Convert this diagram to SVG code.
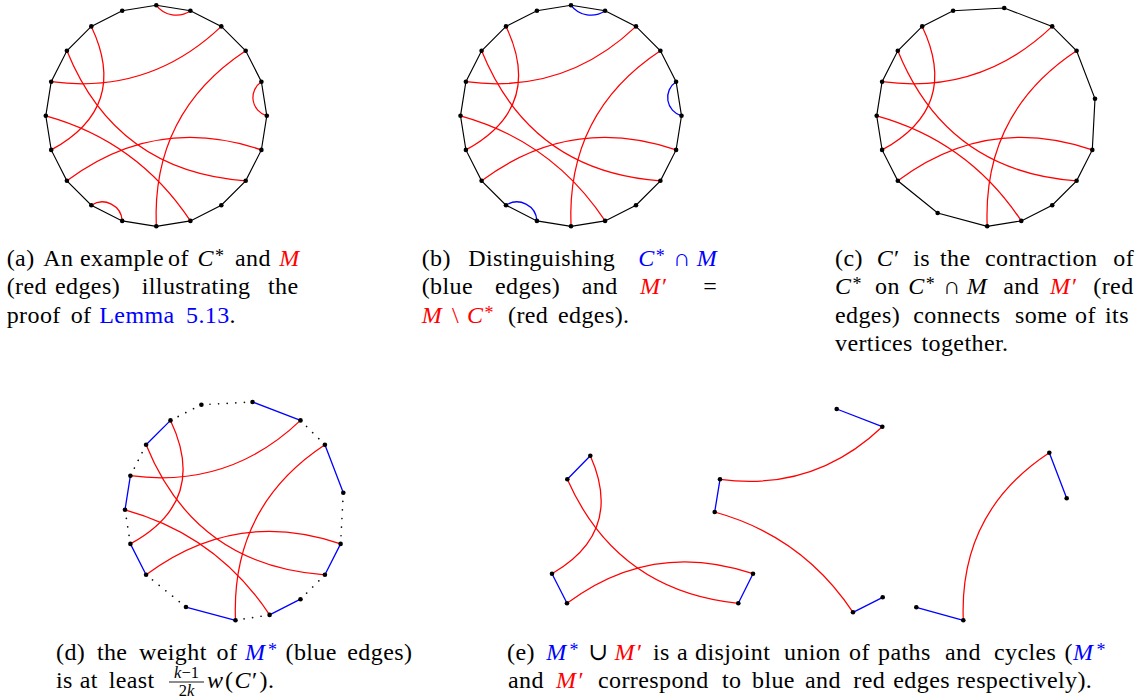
<svg xmlns="http://www.w3.org/2000/svg" xmlns:xlink="http://www.w3.org/1999/xlink" width="1147" height="698" viewBox="0 0 1147 698">
<style>
.e{fill:none;stroke:#000;stroke-width:1.15}
.r{fill:none;stroke:#f00;stroke-width:1.25}
.b{fill:none;stroke:#00f;stroke-width:1.3}
.dt{fill:none;stroke:#111;stroke-width:1.7;stroke-linecap:round;stroke-dasharray:0.01 8.6}
.v{fill:#000}
.t{font-family:"Liberation Serif","DejaVu Serif",serif;font-size:24px;letter-spacing:0.4px;fill:#000}
.i{font-style:italic;letter-spacing:0}
.sp{font-size:18px;letter-spacing:0}
.fr{font-size:16.5px;letter-spacing:0}
.rd{fill:#f00}
.bl{fill:#00f}
</style>
<defs>
<g id="redM">
<path d="M91.3,26.4 Q129.7,107.1 51.2,149.9"/>
<path d="M51.2,81.7 Q149.7,94.75 221.3,26.4"/>
<path d="M66.9,50.8 Q115.9,171.6 245.7,180.8"/>
<path d="M45.8,115.8 Q137.6,141.2 190.4,220.9"/>
<path d="M66.9,180.8 Q156.3,114.1 261.4,149.9"/>
<path d="M245.7,50.8 Q151.6,112.9 156.3,226.3"/>
</g>
<g id="small">
<path d="M156.3,5.3 A25,25 0 0 0 190.4,10.7"/>
<path d="M261.4,81.7 A19,19 0 0 0 266.8,115.8"/>
<path d="M122.2,220.9 A20,20 0 0 0 91.3,205.2"/>
</g>
<polygon id="c20" points="156.3,5.3 190.4,10.7 221.3,26.4 245.7,50.8 261.4,81.7 266.8,115.8 261.4,149.9 245.7,180.8 221.3,205.2 190.4,220.9 156.3,226.3 122.2,220.9 91.3,205.2 66.9,180.8 51.2,149.9 45.8,115.8 51.2,81.7 66.9,50.8 91.3,26.4 122.2,10.7"/>
<polygon id="c17" points="122.2,10.7 173.35,8 221.3,26.4 245.7,50.8 264.1,98.75 261.4,149.9 245.7,180.8 221.3,205.2 190.4,220.9 156.3,226.3 106.75,213.05 66.9,180.8 51.2,149.9 45.8,115.8 51.2,81.7 66.9,50.8 91.3,26.4"/>
</defs>

<!-- panel a -->
<g id="panel-a">
<g id="a-connectors">
<use xlink:href="#c20" class="e"/>
<use xlink:href="#redM" class="r"/>
<use xlink:href="#small" class="r"/>
</g>
<g id="a0"><circle class="v" cx="156.3" cy="5.3" r="2.3"/></g>
<g id="a1"><circle class="v" cx="190.4" cy="10.7" r="2.3"/></g>
<g id="a2"><circle class="v" cx="221.3" cy="26.4" r="2.3"/></g>
<g id="a3"><circle class="v" cx="245.7" cy="50.8" r="2.3"/></g>
<g id="a4"><circle class="v" cx="261.4" cy="81.7" r="2.3"/></g>
<g id="a5"><circle class="v" cx="266.8" cy="115.8" r="2.3"/></g>
<g id="a6"><circle class="v" cx="261.4" cy="149.9" r="2.3"/></g>
<g id="a7"><circle class="v" cx="245.7" cy="180.8" r="2.3"/></g>
<g id="a8"><circle class="v" cx="221.3" cy="205.2" r="2.3"/></g>
<g id="a9"><circle class="v" cx="190.4" cy="220.9" r="2.3"/></g>
<g id="a10"><circle class="v" cx="156.3" cy="226.3" r="2.3"/></g>
<g id="a11"><circle class="v" cx="122.2" cy="220.9" r="2.3"/></g>
<g id="a12"><circle class="v" cx="91.3" cy="205.2" r="2.3"/></g>
<g id="a13"><circle class="v" cx="66.9" cy="180.8" r="2.3"/></g>
<g id="a14"><circle class="v" cx="51.2" cy="149.9" r="2.3"/></g>
<g id="a15"><circle class="v" cx="45.8" cy="115.8" r="2.3"/></g>
<g id="a16"><circle class="v" cx="51.2" cy="81.7" r="2.3"/></g>
<g id="a17"><circle class="v" cx="66.9" cy="50.8" r="2.3"/></g>
<g id="a18"><circle class="v" cx="91.3" cy="26.4" r="2.3"/></g>
<g id="a19"><circle class="v" cx="122.2" cy="10.7" r="2.3"/></g>
</g>

<!-- panel b -->
<g id="panel-b" transform="translate(414.7,0)">
<g id="b-connectors">
<use xlink:href="#c20" class="e"/>
<use xlink:href="#redM" class="r"/>
<use xlink:href="#small" class="b"/>
</g>
<g id="b0"><circle class="v" cx="156.3" cy="5.3" r="2.3"/></g>
<g id="b1"><circle class="v" cx="190.4" cy="10.7" r="2.3"/></g>
<g id="b2"><circle class="v" cx="221.3" cy="26.4" r="2.3"/></g>
<g id="b3"><circle class="v" cx="245.7" cy="50.8" r="2.3"/></g>
<g id="b4"><circle class="v" cx="261.4" cy="81.7" r="2.3"/></g>
<g id="b5"><circle class="v" cx="266.8" cy="115.8" r="2.3"/></g>
<g id="b6"><circle class="v" cx="261.4" cy="149.9" r="2.3"/></g>
<g id="b7"><circle class="v" cx="245.7" cy="180.8" r="2.3"/></g>
<g id="b8"><circle class="v" cx="221.3" cy="205.2" r="2.3"/></g>
<g id="b9"><circle class="v" cx="190.4" cy="220.9" r="2.3"/></g>
<g id="b10"><circle class="v" cx="156.3" cy="226.3" r="2.3"/></g>
<g id="b11"><circle class="v" cx="122.2" cy="220.9" r="2.3"/></g>
<g id="b12"><circle class="v" cx="91.3" cy="205.2" r="2.3"/></g>
<g id="b13"><circle class="v" cx="66.9" cy="180.8" r="2.3"/></g>
<g id="b14"><circle class="v" cx="51.2" cy="149.9" r="2.3"/></g>
<g id="b15"><circle class="v" cx="45.8" cy="115.8" r="2.3"/></g>
<g id="b16"><circle class="v" cx="51.2" cy="81.7" r="2.3"/></g>
<g id="b17"><circle class="v" cx="66.9" cy="50.8" r="2.3"/></g>
<g id="b18"><circle class="v" cx="91.3" cy="26.4" r="2.3"/></g>
<g id="b19"><circle class="v" cx="122.2" cy="10.7" r="2.3"/></g>
</g>

<!-- panel c -->
<g id="panel-c" transform="translate(830.9,0)">
<g id="c-connectors">
<use xlink:href="#c17" class="e"/>
<use xlink:href="#redM" class="r"/>
</g>
<g id="c01"><circle class="v" cx="173.35" cy="8" r="2.3"/></g>
<g id="c2"><circle class="v" cx="221.3" cy="26.4" r="2.3"/></g>
<g id="c3"><circle class="v" cx="245.7" cy="50.8" r="2.3"/></g>
<g id="c45"><circle class="v" cx="264.1" cy="98.75" r="2.3"/></g>
<g id="c6"><circle class="v" cx="261.4" cy="149.9" r="2.3"/></g>
<g id="c7"><circle class="v" cx="245.7" cy="180.8" r="2.3"/></g>
<g id="c8"><circle class="v" cx="221.3" cy="205.2" r="2.3"/></g>
<g id="c9"><circle class="v" cx="190.4" cy="220.9" r="2.3"/></g>
<g id="c10"><circle class="v" cx="156.3" cy="226.3" r="2.3"/></g>
<g id="c1112"><circle class="v" cx="106.75" cy="213.05" r="2.3"/></g>
<g id="c13"><circle class="v" cx="66.9" cy="180.8" r="2.3"/></g>
<g id="c14"><circle class="v" cx="51.2" cy="149.9" r="2.3"/></g>
<g id="c15"><circle class="v" cx="45.8" cy="115.8" r="2.3"/></g>
<g id="c16"><circle class="v" cx="51.2" cy="81.7" r="2.3"/></g>
<g id="c17"><circle class="v" cx="66.9" cy="50.8" r="2.3"/></g>
<g id="c18"><circle class="v" cx="91.3" cy="26.4" r="2.3"/></g>
<g id="c19"><circle class="v" cx="122.2" cy="10.7" r="2.3"/></g>
</g>

<!-- panel d -->
<g id="panel-d" transform="translate(79.2,394)">
<g id="d-connectors">
<path class="dt" d="M122.2,10.7 L173.35,8 M221.3,26.4 L245.7,50.8 M264.1,98.75 L261.4,149.9 M245.7,180.8 L221.3,205.2 M190.4,220.9 L156.3,226.3 M106.75,213.05 L66.9,180.8 M51.2,149.9 L45.8,115.8 M51.2,81.7 L66.9,50.8 M91.3,26.4 L122.2,10.7"/>
<path class="b" d="M173.35,8 L221.3,26.4 M245.7,50.8 L264.1,98.75 M261.4,149.9 L245.7,180.8 M221.3,205.2 L190.4,220.9 M156.3,226.3 L106.75,213.05 M66.9,180.8 L51.2,149.9 M45.8,115.8 L51.2,81.7 M66.9,50.8 L91.3,26.4"/>
<use xlink:href="#redM" class="r"/>
</g>
<g id="d01"><circle class="v" cx="173.35" cy="8" r="2.3"/></g>
<g id="d2"><circle class="v" cx="221.3" cy="26.4" r="2.3"/></g>
<g id="d3"><circle class="v" cx="245.7" cy="50.8" r="2.3"/></g>
<g id="d45"><circle class="v" cx="264.1" cy="98.75" r="2.3"/></g>
<g id="d6"><circle class="v" cx="261.4" cy="149.9" r="2.3"/></g>
<g id="d7"><circle class="v" cx="245.7" cy="180.8" r="2.3"/></g>
<g id="d8"><circle class="v" cx="221.3" cy="205.2" r="2.3"/></g>
<g id="d9"><circle class="v" cx="190.4" cy="220.9" r="2.3"/></g>
<g id="d10"><circle class="v" cx="156.3" cy="226.3" r="2.3"/></g>
<g id="d1112"><circle class="v" cx="106.75" cy="213.05" r="2.3"/></g>
<g id="d13"><circle class="v" cx="66.9" cy="180.8" r="2.3"/></g>
<g id="d14"><circle class="v" cx="51.2" cy="149.9" r="2.3"/></g>
<g id="d15"><circle class="v" cx="45.8" cy="115.8" r="2.3"/></g>
<g id="d16"><circle class="v" cx="51.2" cy="81.7" r="2.3"/></g>
<g id="d17"><circle class="v" cx="66.9" cy="50.8" r="2.3"/></g>
<g id="d18"><circle class="v" cx="91.3" cy="26.4" r="2.3"/></g>
<g id="d19"><circle class="v" cx="122.2" cy="10.7" r="2.3"/></g>
</g>

<!-- panel e -->
<g id="panel-e">
<g id="e-connectors">
<path class="b" d="M590.3,455.7 L567.3,479.3 M552,573.7 L567,603.3 M753,573.7 L738.3,603.3 M836.7,409 L882.3,426.7 M720,479.3 L714.7,512 M853,612.3 L882.7,597.3 M1049.3,452.7 L1066.7,498.3 M963.3,620.3 L916.3,607.3"/>
<path class="r" d="M590.3,455.7 Q624.3,531.9 552,573.7"/>
<path class="r" d="M567,603.3 Q652.2,539.6 753,573.7"/>
<path class="r" d="M567.3,479.3 Q616.8,590.9 738.3,603.3"/>
<path class="r" d="M720,479.3 Q813.8,491.9 882.3,426.7"/>
<path class="r" d="M714.7,512 Q802.6,536.3 853,612.3"/>
<path class="r" d="M1049.3,452.7 Q958.9,512.2 963.3,620.3"/>
</g>
<g id="e18"><circle class="v" cx="590.3" cy="455.7" r="2.3"/></g>
<g id="e17"><circle class="v" cx="567.3" cy="479.3" r="2.3"/></g>
<g id="e14"><circle class="v" cx="552" cy="573.7" r="2.3"/></g>
<g id="e13"><circle class="v" cx="567" cy="603.3" r="2.3"/></g>
<g id="e6"><circle class="v" cx="753" cy="573.7" r="2.3"/></g>
<g id="e7"><circle class="v" cx="738.3" cy="603.3" r="2.3"/></g>
<g id="e01"><circle class="v" cx="836.7" cy="409" r="2.3"/></g>
<g id="e2"><circle class="v" cx="882.3" cy="426.7" r="2.3"/></g>
<g id="e16"><circle class="v" cx="720" cy="479.3" r="2.3"/></g>
<g id="e15"><circle class="v" cx="714.7" cy="512" r="2.3"/></g>
<g id="e9"><circle class="v" cx="853" cy="612.3" r="2.3"/></g>
<g id="e8"><circle class="v" cx="882.7" cy="597.3" r="2.3"/></g>
<g id="e3"><circle class="v" cx="1049.3" cy="452.7" r="2.3"/></g>
<g id="e45"><circle class="v" cx="1066.7" cy="498.3" r="2.3"/></g>
<g id="e10"><circle class="v" cx="963.3" cy="620.3" r="2.3"/></g>
<g id="e1112"><circle class="v" cx="916.3" cy="607.3" r="2.3"/></g>
</g>

<!-- captions -->
<g id="caption-a" class="t">
<text y="266"><tspan x="6.7">(a)</tspan><tspan x="43.3">An</tspan><tspan x="80">example</tspan><tspan x="168">of</tspan><tspan x="197.5" class="i">C</tspan><tspan x="215" y="262" class="sp">*</tspan><tspan x="235" y="266">and</tspan><tspan x="279.3" class="i rd">M</tspan></text>
<text y="294.3"><tspan x="6.7">(red</tspan><tspan x="55">edges)</tspan><tspan x="141.7">illustrating</tspan><tspan x="268">the</tspan></text>
<text y="322.7"><tspan x="6.7">proof</tspan><tspan x="70.7">of</tspan><tspan x="99.3" class="bl">Lemma</tspan><tspan x="186" class="bl">5.13</tspan><tspan x="229.5">.</tspan></text>
</g>

<g id="caption-b" class="t">
<text y="266"><tspan x="421.7">(b)</tspan><tspan x="468.3">Distinguishing</tspan><tspan x="638.3" class="i bl">C</tspan><tspan x="655.8" y="262" class="sp bl">*</tspan><tspan x="673.3" y="266" class="bl">∩</tspan><tspan x="696.7" class="i bl">M</tspan></text>
<text y="294.3"><tspan x="421.7">(blue</tspan><tspan x="495">edges)</tspan><tspan x="581.7">and</tspan><tspan x="640" class="i rd">M</tspan><tspan x="662" class="rd">′</tspan><tspan x="703.3">=</tspan></text>
<text y="322.7"><tspan x="421.7" class="i rd">M</tspan><tspan x="452" class="rd">\</tspan><tspan x="467" class="i rd">C</tspan><tspan x="484.5" y="318.7" class="sp rd">*</tspan><tspan x="508" y="322.7">(red</tspan><tspan x="558">edges).</tspan></text>
</g>

<g id="caption-c" class="t">
<text y="266"><tspan x="835">(c)</tspan><tspan x="876.7" class="i">C</tspan><tspan x="894">′</tspan><tspan x="913.3">is</tspan><tspan x="940">the</tspan><tspan x="985">contraction</tspan><tspan x="1113.3">of</tspan></text>
<text y="294.3"><tspan x="835" class="i">C</tspan><tspan x="852.5" y="290.3" class="sp">*</tspan><tspan x="875" y="294.3">on</tspan><tspan x="908.3" class="i">C</tspan><tspan x="925.8" y="290.3" class="sp">*</tspan><tspan x="943.3" y="294.3">∩</tspan><tspan x="966.7" class="i">M</tspan><tspan x="1003.3">and</tspan><tspan x="1050" class="i rd">M</tspan><tspan x="1072" class="rd">′</tspan><tspan x="1093.3">(red</tspan></text>
<text y="322.7"><tspan x="835">edges)</tspan><tspan x="913.3">connects</tspan><tspan x="1015">some</tspan><tspan x="1075">of</tspan><tspan x="1105">its</tspan></text>
<text y="351"><tspan x="835">vertices</tspan><tspan x="921.5">together.</tspan></text>
</g>

<g id="caption-d" class="t">
<text y="659.5"><tspan x="56">(d)</tspan><tspan x="96.9">the</tspan><tspan x="139">weight</tspan><tspan x="216.6">of</tspan><tspan x="244.9" class="i bl">M</tspan><tspan x="268" y="655.5" class="sp bl">*</tspan><tspan x="285.5" y="659.5">(blue</tspan><tspan x="347.3">edges)</tspan></text>
<text y="688"><tspan x="56">is</tspan><tspan x="79.8">at</tspan><tspan x="108.7">least</tspan><tspan x="207" class="i">w</tspan><tspan x="225">(</tspan><tspan x="234.5" class="i">C</tspan><tspan x="252">′</tspan><tspan x="259.5">).</tspan></text>
<text x="186.5" y="678" text-anchor="middle" class="fr"><tspan class="i">k</tspan>−1</text>
<line x1="169" y1="682" x2="204" y2="682" stroke="#000" stroke-width="0.9"/>
<text x="186.5" y="695.5" text-anchor="middle" class="fr">2<tspan class="i">k</tspan></text>
</g>

<g id="caption-e" class="t">
<text y="659.5"><tspan x="507">(e)</tspan><tspan x="546.3" class="i bl">M</tspan><tspan x="569.5" y="655.5" class="sp bl">*</tspan><tspan x="588.5" y="659.5">∪</tspan><tspan x="614.5" class="i rd">M</tspan><tspan x="637" class="rd">′</tspan><tspan x="653">is</tspan><tspan x="677">a</tspan><tspan x="695">disjoint</tspan><tspan x="784">union</tspan><tspan x="849">of</tspan><tspan x="878">paths</tspan><tspan x="945">and</tspan><tspan x="994">cycles</tspan><tspan x="1064.5">(</tspan><tspan x="1073" class="i bl">M</tspan><tspan x="1096.5" y="655.5" class="sp bl">*</tspan></text>
<text y="688"><tspan x="508">and</tspan><tspan x="556" class="i rd">M</tspan><tspan x="578.5" class="rd">′</tspan><tspan x="598">correspond</tspan><tspan x="722">to</tspan><tspan x="752">blue</tspan><tspan x="805">and</tspan><tspan x="853.3">red</tspan><tspan x="893.3">edges</tspan><tspan x="956.7">respectively).</tspan></text>
</g>
</svg>
